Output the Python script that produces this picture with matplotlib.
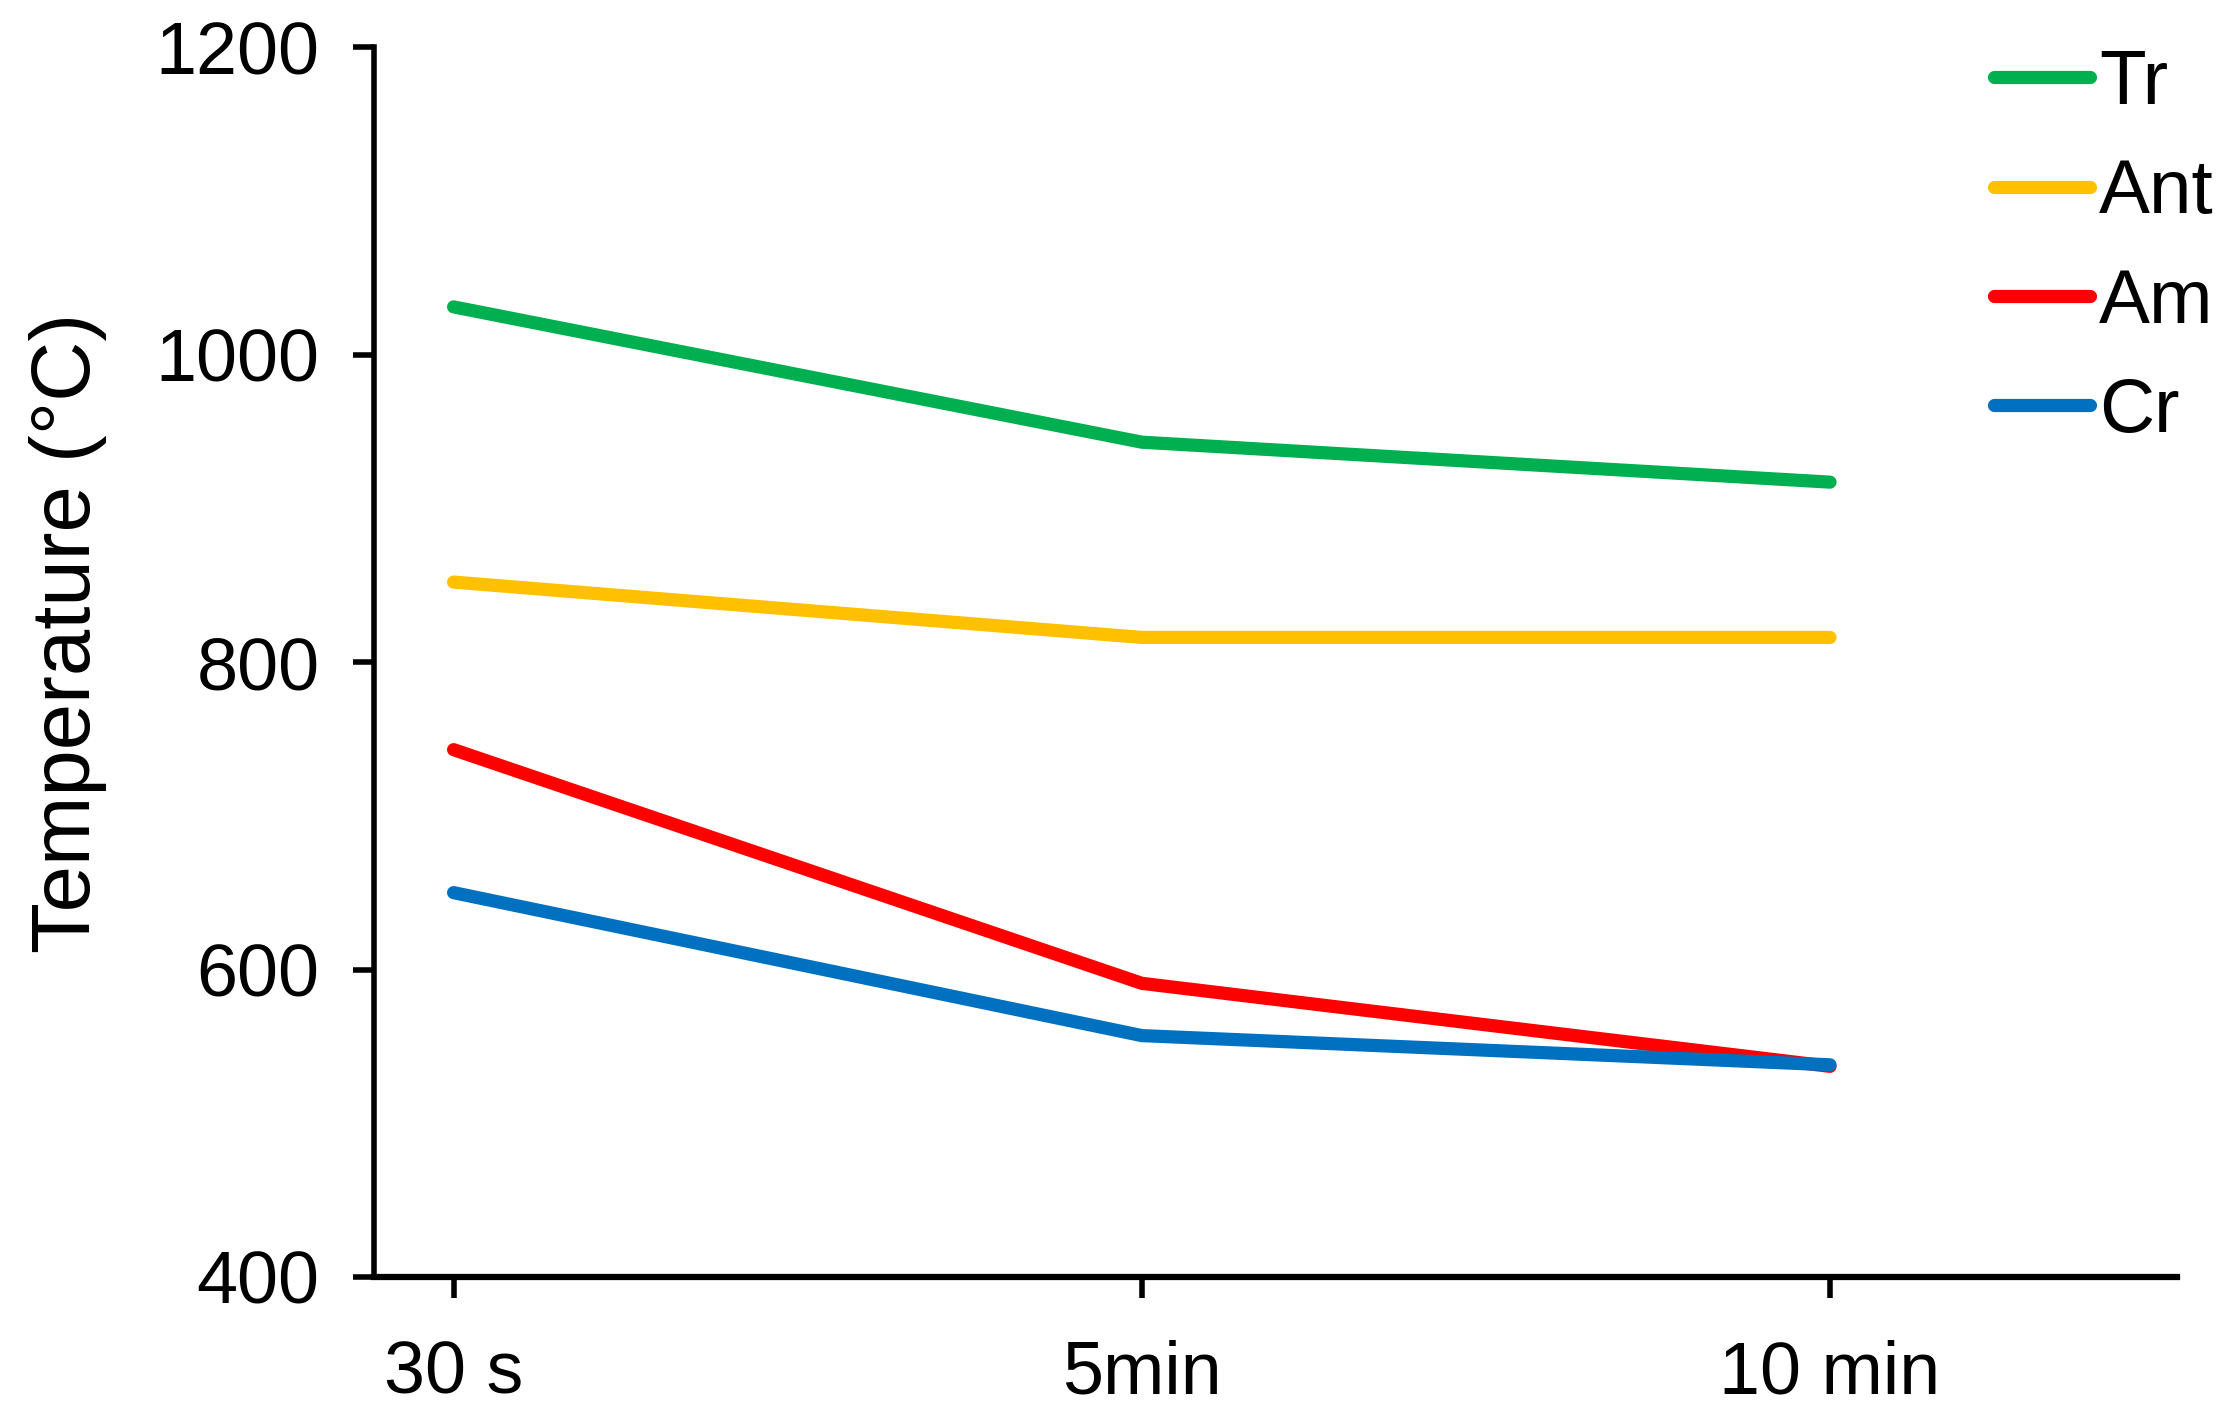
import matplotlib
matplotlib.use("Agg")
import matplotlib.pyplot as plt

# data
categories = ["30 s", "5min", "10 min"]
series_names = ["Tr", "Ant", "Am", "Cr"]
tr_values = [1031, 943, 917]
ant_values = [852, 816, 816]
am_values = [743, 591, 537]
cr_values = [650, 557, 538]
colors = ["#00B050", "#FFC000", "#FF0000", "#0070C0"]
y_ticks = [400, 600, 800, 1000, 1200]

plt.rcParams["font.family"] = ["Liberation Sans", "DejaVu Sans"]

fig = plt.figure(figsize=(22.38, 14.26), dpi=100)
ax = fig.add_axes([0.167, 0.1045, 0.8057, 0.8625])

x = list(range(len(categories)))
for name, vals, c in zip(series_names, [tr_values, ant_values, am_values, cr_values], colors):
    ax.plot(x, vals, color=c, linewidth=9.5, label=name, solid_capstyle="round")

ax.set_xlim(-0.116, 2.504)
ax.set_ylim(400, 1200)
ax.set_yticks(y_ticks)
ax.set_xticks(x)
ax.set_xticklabels(categories)

for side in ["top", "right"]:
    ax.spines[side].set_visible(False)
ax.spines["left"].set_linewidth(4)
ax.spines["bottom"].set_linewidth(4.5)

ax.tick_params(axis="y", direction="out", length=15, width=4, labelsize=53, pad=24)
ax.tick_params(axis="x", direction="out", length=15, width=4, labelsize=53, pad=30)

ax.set_ylabel("Temperature (°C)", fontsize=60)
ax.yaxis.set_label_coords(-0.148, 0.524)

leg = ax.legend(loc="upper right", bbox_to_anchor=(1.013, 1.003), bbox_transform=fig.transFigure,
                frameon=False, fontsize=55, handlelength=1.25, handletextpad=0.12,
                labelspacing=0.5, borderaxespad=0.3)

fig.savefig("out.png", dpi=100)
